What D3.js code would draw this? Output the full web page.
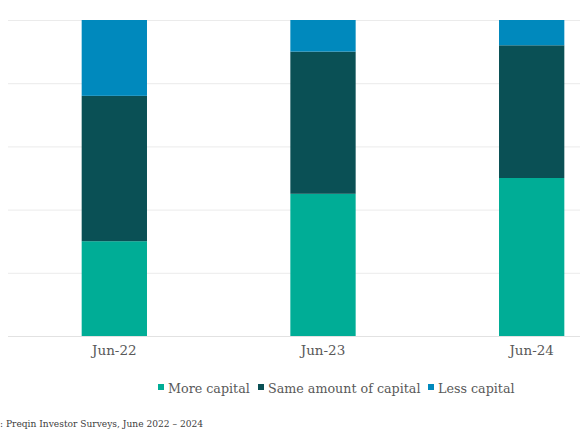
<!DOCTYPE html>
<html>
<head>
<meta charset="utf-8">
<script src="https://cdn.jsdelivr.net/npm/d3@7/dist/d3.min.js"></script>
<style>
	html, body { margin: 0; padding: 0; background: #fff; overflow: hidden; }
	svg { display: block; }
</style>
</head>
<body>
<div id="chart"></div>
<script>
const categories = ['Jun-22', 'Jun-23', 'Jun-24'];
const seriesNames = ['More capital', 'Same amount of capital', 'Less capital'];
const moreCapital = [30, 45, 50];
const sameCapital = [46, 45, 42];
const lessCapital = [24, 10, 8];
const yTicks = [0, 20, 40, 60, 80, 100];
const sourceText = ': Preqin Investor Surveys, June 2022 \u2013 2024';

const colors = ['#00AD96', '#0A5055', '#0089BD'];
const fontFamily = '"DejaVu Serif", "Liberation Serif", serif';

const width = 580, height = 435;
const margin = { top: 20, right: -56, bottom: 99, left: 10 };

const svg = d3.select('#chart').append('svg')
	.attr('width', width)
	.attr('height', height);

const xScale = d3.scaleBand()
	.domain(categories)
	.range([margin.left, width - margin.right])
	.paddingInner(0.687)
	.paddingOuter(0.3435);

const yScale = d3.scaleLinear()
	.domain([0, 100])
	.range([height - margin.bottom, margin.top]);

// gridlines
svg.append('g')
	.attr('class', 'grid')
	.selectAll('line')
	.data(yTicks)
	.enter().append('line')
	.attr('x1', 8)
	.attr('x2', width)
	.attr('y1', d => yScale(d) + 0.5)
	.attr('y2', d => yScale(d) + 0.5)
	.attr('stroke', d => d === 0 ? '#E2E2E2' : '#EBEBEB')
	.attr('stroke-width', 1);

// stacked bars
const table = categories.map((c, i) => ({
	key: c,
	'More capital': moreCapital[i],
	'Same amount of capital': sameCapital[i],
	'Less capital': lessCapital[i]
}));
const stacked = d3.stack().keys(seriesNames)(table);

svg.append('g')
	.selectAll('g')
	.data(stacked)
	.enter().append('g')
	.attr('fill', (d, i) => colors[i])
	.selectAll('rect')
	.data(d => d)
	.enter().append('rect')
	.attr('x', d => xScale(d.data.key))
	.attr('width', xScale.bandwidth())
	.attr('y', d => yScale(d[1]))
	.attr('height', d => yScale(d[0]) - yScale(d[1]));

// x axis labels
const xAxis = svg.append('g')
	.attr('transform', `translate(0,${height - margin.bottom})`)
	.call(d3.axisBottom(xScale).tickSize(0).tickPadding(9));
xAxis.select('.domain').remove();
xAxis.selectAll('text')
	.attr('fill', '#595959')
	.style('font-family', fontFamily)
	.style('font-size', '13.5px');

// legend
const legendX = [158, 258, 428];
const legend = svg.append('g')
	.selectAll('g')
	.data(seriesNames)
	.enter().append('g')
	.attr('transform', (d, i) => `translate(${legendX[i]},382)`);
legend.append('rect')
	.attr('width', 6)
	.attr('height', 6)
	.attr('y', 2)
	.attr('fill', (d, i) => colors[i]);
legend.append('text')
	.attr('x', 10)
	.attr('y', 10.5)
	.attr('fill', '#595959')
	.style('font-family', fontFamily)
	.style('font-size', '12.7px')
	.text(d => d);

// source
svg.append('text')
	.attr('x', 0)
	.attr('y', 427)
	.attr('fill', '#404040')
	.style('font-family', fontFamily)
	.style('font-size', '9.1px')
	.text(sourceText);
</script>
</body>
</html>
